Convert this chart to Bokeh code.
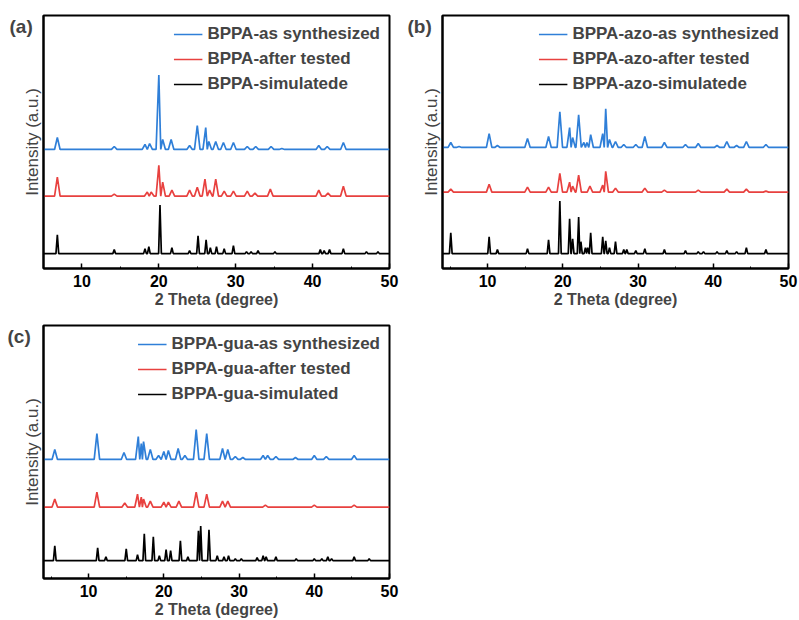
from bokeh.plotting import figure
from bokeh.models import Range1d, SingleIntervalTicker, FixedTicker
from bokeh.layouts import gridplot
from bokeh.embed import file_html
from bokeh.resources import INLINE

FONT = "Liberation Sans"
BLUE = "#2f7fd8"
RED = "#e8413f"
BLACK = "#000000"

# ---------------- data (peak positions in 2-theta, peak heights above baseline) -------------
# Panel (a) BPPA
a_blue_x = [6.8, 14.2, 18.2, 18.8, 20.0, 20.5, 21.6, 24.0, 25.0, 26.1, 26.5, 27.4, 28.4, 29.7, 31.5, 32.6, 34.6, 36.0, 40.8, 41.9, 44.0]
a_blue_h = [12, 3, 5, 6, 75, 10, 10, 4, 24, 22, 8, 8, 7, 7, 3, 3, 3, 1, 4, 3, 7]
a_red_x = [6.8, 14.2, 18.5, 19.0, 20.0, 20.5, 21.7, 24.0, 25.0, 26.0, 26.6, 27.4, 28.5, 29.7, 31.5, 32.5, 34.5, 40.8, 42.0, 44.0]
a_red_h = [19, 2, 4, 4, 31, 14, 6, 6, 9, 17, 6, 17, 5, 5, 5, 3, 7, 6, 3, 10]
a_black_x = [6.8, 14.2, 18.2, 18.7, 20.15, 21.7, 24.0, 25.1, 26.15, 26.7, 27.5, 28.5, 29.7, 31.4, 32.0, 32.9, 35.1, 41.0, 41.5, 42.2, 44.0, 47.0, 48.5]
a_black_h = [19, 4, 5, 7, 49, 6, 3, 18, 14, 6, 7, 5, 8, 2, 2, 3, 2, 4, 3, 4, 5, 2, 2]
a_base = {"blue": 120, "red": 73, "black": 15}
a_labels = ["BPPA-as synthesized", "BPPA-after tested", "BPPA-simulatede"]

# Panel (b) BPPA-azo
b_blue_x = [5.1, 6.2, 10.2, 11.3, 15.3, 18.1, 19.6, 20.9, 21.3, 22.1, 22.8, 23.2, 23.7, 25.3, 25.7, 26.2, 27.0, 28.1, 29.7, 30.9, 33.5, 36.3, 38.0, 40.5, 41.8, 43.1, 44.4, 47.0]
b_blue_h = [5, 1, 14, 2, 9, 11, 36, 20, 10, 33, 5, 5, 13, 14, 39, 8, 6, 3, 3, 11, 5, 3, 4, 2, 6, 2, 6, 3]
b_red_x = [5.1, 10.2, 15.3, 18.1, 19.6, 20.9, 21.3, 22.1, 23.6, 25.3, 25.7, 27.0, 30.9, 33.5, 38.0, 41.8, 44.4, 47.0]
b_red_h = [3, 8, 5, 5, 19, 10, 6, 17, 6, 7, 21, 4, 4, 2, 2, 3, 3, 1]
b_black_x = [5.1, 10.2, 11.3, 15.3, 18.1, 19.6, 20.9, 21.3, 22.1, 22.4, 23.0, 23.3, 23.7, 25.3, 25.7, 26.2, 27.0, 28.1, 28.5, 29.7, 30.9, 33.5, 36.3, 38.0, 38.7, 40.5, 41.8, 43.1, 44.4, 47.0]
b_black_h = [21, 17, 4, 5, 14, 53, 35, 15, 37, 12, 6, 6, 21, 17, 13, 6, 12, 4, 4, 3, 5, 4, 3, 2, 2, 2, 3, 2, 6, 4]
b_base = {"blue": 122, "red": 77, "black": 15}
b_labels = ["BPPA-azo-as synthesized", "BPPA-azo-after tested", "BPPA-azo-simulatede"]

# Panel (c) BPPA-gua
c_blue_x = [5.5, 11.1, 14.7, 16.6, 17.0, 17.3, 18.2, 19.3, 20.0, 20.6, 21.9, 22.8, 24.3, 25.7, 27.8, 28.5, 29.5, 30.5, 33.2, 33.8, 34.9, 37.5, 40.0, 41.6, 45.3]
c_blue_h = [10, 26, 7, 23, 16, 18, 10, 4, 8, 9, 11, 4, 30, 26, 11, 10, 3, 2, 4, 4, 3, 2, 4, 3, 4]
c_red_x = [5.5, 11.1, 14.8, 16.5, 17.0, 17.3, 18.2, 20.0, 20.6, 22.0, 24.3, 25.7, 27.8, 28.5, 33.5, 40.0, 45.3]
c_red_h = [8, 15, 4, 13, 10, 8, 6, 5, 5, 6, 15, 13, 6, 6, 2, 2, 2]
c_black_x = [5.5, 11.2, 12.3, 15.0, 16.5, 17.4, 18.6, 19.4, 20.3, 20.9, 22.2, 23.2, 24.6, 24.9, 26.0, 27.1, 28.0, 28.6, 29.5, 30.3, 32.4, 33.2, 33.6, 34.9, 37.6, 40.0, 41.0, 41.8, 42.3, 45.3, 47.3]
c_black_h = [15, 13, 4, 12, 6, 27, 24, 5, 11, 10, 20, 4, 30, 35, 31, 5, 4, 5, 2, 2, 3, 5, 4, 4, 2, 2, 2, 4, 2, 4, 2]
c_base = {"blue": 120, "red": 72, "black": 18}
c_labels = ["BPPA-gua-as synthesized", "BPPA-gua-after tested", "BPPA-gua-simulated"]


def trace(px, ph, base, w, xmin, xmax):
    pairs = sorted(zip(px, ph))
    xs, ys = [xmin], [base]
    for i, (x, h) in enumerate(pairs):
        prev = pairs[i - 1][0] if i > 0 else xmin - 10
        nxt = pairs[i + 1][0] if i < len(pairs) - 1 else xmax + 10
        wl = min(w, (x - prev) / 2.0)
        wr = min(w, (nxt - x) / 2.0)
        xs += [x - wl, x, x + wr]
        ys += [base, base + h, base]
    xs.append(xmax)
    ys.append(base)
    return xs, ys


def panel(tag, tag_off, xmin, series, base, labels, width, left, right):
    p = figure(width=width, height=310, output_backend="svg", toolbar_location=None,
               x_range=Range1d(xmin, 50), y_range=Range1d(0, 255),
               min_border_left=left, min_border_right=right, min_border_top=15, min_border_bottom=40)
    p.xgrid.visible = False
    p.ygrid.visible = False
    p.outline_line_color = "black"
    p.outline_line_width = 2
    colors = [BLUE, RED, BLACK]
    keys = ["blue", "red", "black"]
    widths = [0.36, 0.36, 0.18]
    for (sx, sh), col, key, lab, w in zip(series, colors, keys, labels, widths):
        xs, ys = trace(sx, sh, base[key], w, xmin, 50)
        p.line(xs, ys, line_color=col, line_width=1.7, legend_label=lab)
    ax = p.xaxis[0]
    ax.ticker = SingleIntervalTicker(interval=10, num_minor_ticks=2)
    ax.major_tick_in = 5
    ax.major_tick_out = 0
    ax.minor_tick_in = 2
    ax.minor_tick_out = 0
    ax.axis_line_width = 2
    ax.major_tick_line_width = 1.5
    ax.major_label_standoff = 6
    ax.major_label_text_font = FONT
    ax.major_label_text_font_style = "bold"
    ax.major_label_text_font_size = "16px"
    ax.major_label_text_color = "black"
    ax.axis_label = "2 Theta (degree)"
    ax.axis_label_text_font = FONT
    ax.axis_label_text_font_style = "bold"
    ax.axis_label_text_font_size = "16px"
    ax.axis_label_standoff = 1
    ay = p.yaxis[0]
    ay.ticker = FixedTicker(ticks=[])
    ay.major_tick_out = 0
    ay.major_tick_in = 0
    ay.minor_tick_out = 0
    ay.major_label_text_font_size = "0px"
    ay.major_label_standoff = 0
    ay.axis_line_width = 2
    ay.axis_label = "Intensity (a.u.)"
    ay.axis_label_text_font = FONT
    ay.axis_label_text_font_style = "normal"
    ay.axis_label_text_font_size = "17px"
    ay.axis_label_standoff = 2
    lg = p.legend[0]
    lg.location = "top_right"
    lg.margin = 5
    lg.padding = 4
    lg.spacing = 5
    lg.glyph_width = 29
    lg.glyph_height = 20
    lg.label_height = 20
    lg.label_standoff = 5
    lg.label_text_font = FONT
    lg.label_text_font_style = "bold"
    lg.label_text_font_size = "17px"
    lg.border_line_alpha = 0
    lg.background_fill_alpha = 0
    # panel tag as the plot title, shifted into the left margin
    p.title.text = tag
    p.title.align = "left"
    p.title.offset = tag_off
    p.title.standoff = -42
    p.title.vertical_align = "bottom"
    p.title.text_font = FONT
    p.title.text_font_style = "bold"
    p.title.text_font_size = "19px"
    return p


pa = panel("(a)", -34, 5, [(a_blue_x, a_blue_h), (a_red_x, a_red_h), (a_black_x, a_black_h)], a_base, a_labels, 400, 43, 10)
pb = panel("(b)", -35, 4, [(b_blue_x, b_blue_h), (b_red_x, b_red_h), (b_black_x, b_black_h)], b_base, b_labels, 399, 42, 11)
pc = panel("(c)", -36, 4, [(c_blue_x, c_blue_h), (c_red_x, c_red_h), (c_black_x, c_black_h)], c_base, c_labels, 400, 43, 11)

grid = gridplot([[pa, pb], [pc, None]], toolbar_location=None)
open("out.html", "w").write(file_html(grid, INLINE))
